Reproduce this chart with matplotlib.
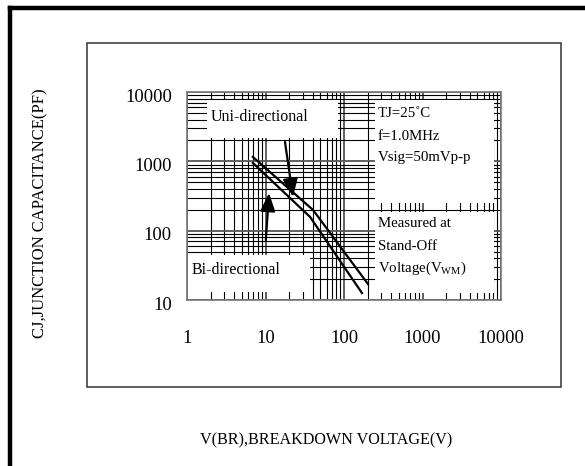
import numpy as np
import matplotlib
matplotlib.use('Agg')
import matplotlib.pyplot as plt
from matplotlib.patches import Rectangle
from matplotlib.lines import Line2D
from matplotlib.ticker import LogLocator, NullFormatter
from matplotlib.transforms import blended_transform_factory, ScaledTranslation

plt.rcParams['font.family'] = ['Liberation Serif', 'DejaVu Serif']
plt.rcParams['mathtext.fontset'] = 'custom'
plt.rcParams['mathtext.rm'] = 'Liberation Serif'

# curve data (breakdown voltage V, capacitance pF)
uni_v = [6.9, 40.3, 202]
uni_c = [1156, 199, 17.0]
bi_v = [6.9, 36.9, 169.5]
bi_c = [948, 158, 12.6]

# arrow (tail -> head) in data coords
uni_arrow = [(17.7, 1905), (22.4, 306)]
bi_arrow = [(10.1, 73.5), (11.1, 350)]

x_ticks = [1, 10, 100, 1000, 10000]
x_labels = ['1', '10', '100', '1000', '10000']
y_ticks = [10, 100, 1000, 10000]
y_labels = ['10', '100', '1000', '10000']

notes_top = ['TJ=25\u02daC', 'f=1.0MHz', 'Vsig=50mVp-p']
notes_bottom = ['Measured at', 'Stand-Off', 'Voltage(V$_{\\rm WM}$)']

W, H = 585, 466
fig = plt.figure(figsize=(W / 100, H / 100), dpi=100)
ax = fig.add_axes([187 / W, 1 - 300 / H, 314 / W, 208 / H])

ax.set_xscale('log')
ax.set_yscale('log')
ax.set_xlim(1, 10000)
ax.set_ylim(10, 10000)
for axis in (ax.xaxis, ax.yaxis):
    axis.set_major_locator(LogLocator(base=10))
    axis.set_minor_locator(LogLocator(base=10, subs=np.arange(2, 10)))
    axis.set_minor_formatter(NullFormatter())
ax.tick_params(which='both', length=0, labelleft=False, labelbottom=False)
ax.grid(which='major', color='#555555', lw=1.3, zorder=1)
ax.grid(which='minor', color='black', lw=0.8, zorder=1)
ax.set_axisbelow(True)
for s in ax.spines.values():
    s.set_color('#777777')
    s.set_linewidth(1.2)
    s.set_zorder(6)

# white boxes behind the labels (axes fraction)
boxes = [(0.064, 0.779, 0.417, 0.183),
         (0.599, 0.466, 0.379, 0.496),
         (0.599, 0.034, 0.379, 0.389),
         (0.002, 0.038, 0.390, 0.178)]
for bx, by, bw, bh in boxes:
    ax.add_patch(Rectangle((bx, by), bw, bh, transform=ax.transAxes,
                           facecolor='white', edgecolor='none', zorder=2))

ax.plot(uni_v, uni_c, color='black', lw=1.6, zorder=4)
ax.plot(bi_v, bi_c, color='black', lw=1.6, zorder=4)

for tail, head in (uni_arrow, bi_arrow):
    ax.annotate('', xy=head, xytext=tail, zorder=5,
                arrowprops=dict(arrowstyle='-|>,head_length=1.1,head_width=0.45',
                                color='black', lw=1.6, shrinkA=0, shrinkB=0,
                                mutation_scale=10))

ax.text(0.076, 0.880, 'Uni-directional', transform=ax.transAxes,
        fontsize=11.5, va='center', ha='left', zorder=7)
ax.text(0.016, 0.144, 'Bi-directional', transform=ax.transAxes,
        fontsize=11.5, va='center', ha='left', zorder=7)
for t, yy in zip(notes_top, [0.899, 0.784, 0.683]):
    ax.text(0.608, yy, t, transform=ax.transAxes, fontsize=10.7,
            va='center', ha='left', zorder=7)
for t, yy in zip(notes_bottom, [0.370, 0.255, 0.154]):
    ax.text(0.608, yy, t, transform=ax.transAxes, fontsize=10.7,
            va='center', ha='left', zorder=7)

# tick labels, nudged a little below the grid lines as in the original
ytr = blended_transform_factory(ax.transAxes, ax.transData) + \
    ScaledTranslation(0, -0.05, fig.dpi_scale_trans)
for v, lab in zip(y_ticks, y_labels):
    ax.text(-0.048, v, lab, transform=ytr, fontsize=13.3,
            ha='right', va='center', clip_on=False)
xtr = blended_transform_factory(ax.transData, ax.transAxes)
for v, lab in zip(x_ticks, x_labels):
    ax.text(v, -0.183, lab, transform=xtr, fontsize=13.3,
            ha='center', va='center', clip_on=False)

fig.text(40 / W, 1 - 213 / H, 'CJ,JUNCTION CAPACITANCE(PF)', rotation=90,
         fontsize=12, ha='center', va='center')
fig.text(326 / W, 1 - 440 / H, 'V(BR),BREAKDOWN VOLTAGE(V)',
         fontsize=11.6, ha='center', va='center')

# frames
fig.patches.append(Rectangle((87 / W, 1 - 387 / H), 474 / W, 344 / H,
                             transform=fig.transFigure, fill=False,
                             edgecolor='#333333', lw=1.1))
fig.lines.append(Line2D([10 / W, 1], [1 - 8 / H, 1 - 8 / H],
                        transform=fig.transFigure, color='black', lw=3.2))
fig.lines.append(Line2D([10 / W, 10 / W], [0, 1 - 8 / H],
                        transform=fig.transFigure, color='black', lw=3.2))

fig.savefig('out.png', dpi=100, facecolor='white')
